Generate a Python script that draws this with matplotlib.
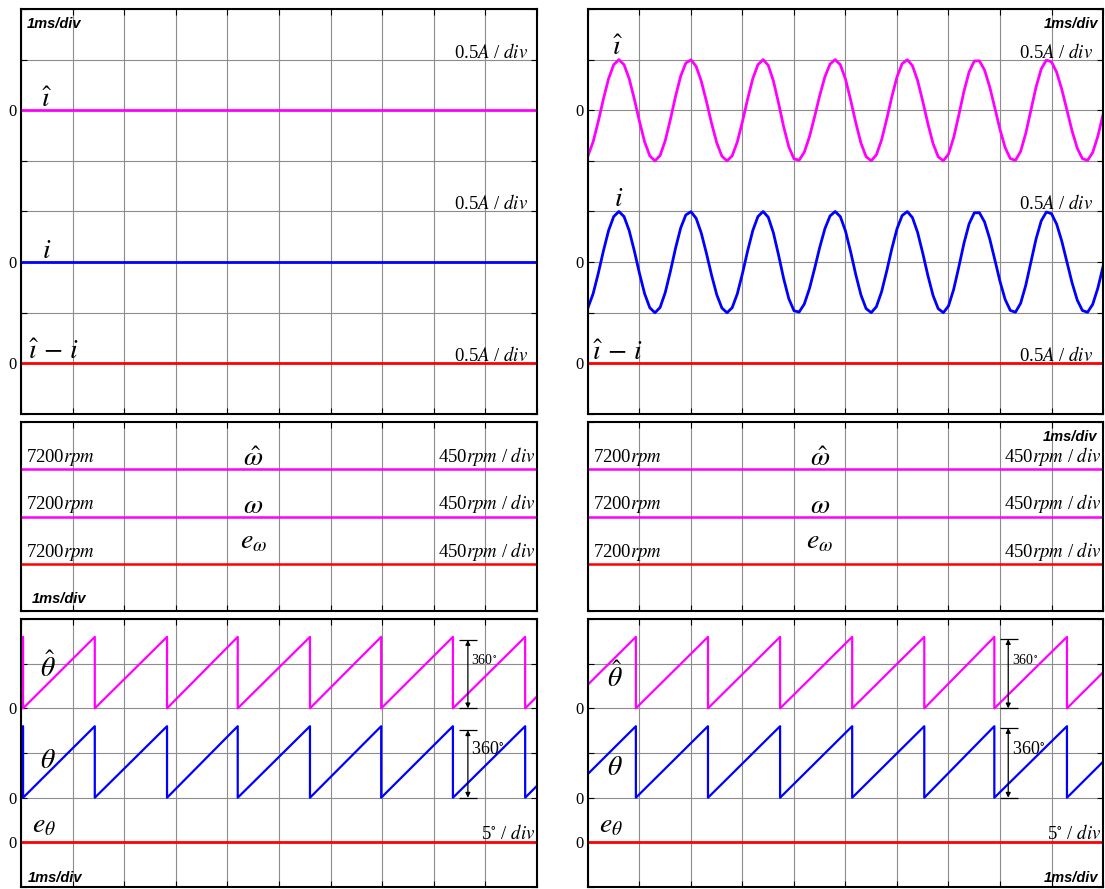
import numpy as np
import matplotlib
matplotlib.use("Agg")
import matplotlib.pyplot as plt

plt.rcParams['font.family'] = ['Liberation Serif', 'DejaVu Serif']
plt.rcParams['mathtext.fontset'] = 'stix'

MAG = '#ff00ff'
BLUE = '#0000ff'
RED = '#ff0000'
GRID = '#8c8c8c'

# time base, ms (1 ms/div, 10 div)
t_ms = np.arange(0, 10.001, 0.1)
flat_t = [0, 10]

# phase current while running (A), sampled every 0.1 ms (right column)
i_run = [-0.450, -0.312, -0.111, 0.111, 0.312, 0.450, 0.500, 0.450, 0.312, 0.111,
         -0.111, -0.312, -0.450, -0.500, -0.448, -0.301, -0.092, 0.137, 0.337, 0.466,
         0.498, 0.433, 0.287, 0.087, -0.129, -0.321, -0.453, -0.500, -0.450, -0.312,
         -0.111, 0.111, 0.312, 0.450, 0.500, 0.444, 0.290, 0.071, -0.164, -0.362,
         -0.480, -0.493, -0.414, -0.262, -0.064, 0.146, 0.330, 0.456, 0.500, 0.449,
         0.307, 0.102, -0.124, -0.324, -0.459, -0.499, -0.440, -0.294, -0.089, 0.133,
         0.329, 0.460, 0.499, 0.440, 0.294, 0.089, -0.133, -0.329, -0.460, -0.499,
         -0.433, -0.270, -0.048, 0.186, 0.378, 0.486, 0.488, 0.397, 0.231, 0.022,
         -0.191, -0.369, -0.477, -0.495, -0.407, -0.229, 0.000, 0.229, 0.407, 0.495,
         0.478, 0.375, 0.206, 0.000, -0.206, -0.375, -0.478, -0.495, -0.417, -0.256,
         -0.045]
i_est_run = i_run          # estimate sits on top of the measurement
i_stop = [0, 0]            # left column: zero current
i_err = [0, 0]

# speed (rpm)
w_est = [7200, 7200]
w_meas = [7200, 7200]
w_err = [0, 0]
w_ref = 7200

# rotor angle sawtooth: wrap instants (ms), value at start / end (deg)
wrap_left = [0.04, 1.43, 2.83, 4.20, 5.60, 6.98, 8.37, 9.77]
theta_left_ends = [355, 60]
wrap_right = [0.93, 2.33, 3.73, 5.13, 6.53, 7.89, 9.30]
theta_right_ends = [120, 181]
theta_err = [0, 0]

amp_per_div = 0.5
rpm_per_div = 450
deg_per_div = 225.0
err_deg_per_div = 5


def saw(wraps, ends):
    xs, ys = [0.0], [ends[0]]
    for w in wraps:
        xs += [w, w]
        ys += [360, 0]
    xs.append(10.0)
    ys.append(ends[1])
    return np.array(xs), np.array(ys)


def setup(ax, ndiv, zeros, hgrid=True):
    ax.set_xlim(0, 10)
    ax.set_ylim(0, ndiv)
    ax.set_xticks(np.arange(0, 11))
    ax.set_yticks(np.arange(0, ndiv + 1))
    ax.set_yticklabels(['0' if k in zeros else '' for k in range(ndiv + 1)], fontsize=12)
    ax.grid(True, axis='x', color=GRID, lw=0.8)
    if hgrid:
        ax.grid(True, axis='y', color=GRID, lw=0.8)
    ax.tick_params(direction='in', top=True, right=True, length=4, width=0.8,
                   labelbottom=False, pad=3)
    for s in ax.spines.values():
        s.set_linewidth(1.5)


def msdiv(ax, x, y, ha, va):
    ax.text(x, y, '1ms/div', family='Liberation Sans', weight='bold', style='italic',
            fontsize=10.5, ha=ha, va=va)


fig = plt.figure(figsize=(11.05, 8.89), dpi=100)
cols = [(0.0190, 0.4670), (0.5321, 0.4661)]
rows = [(0.5343, 0.4556), (0.3127, 0.2126), (0.0022, 0.3015)]
LBL = 20

# ---------- current panels ----------
for c, (left, w) in enumerate(cols):
    ax = fig.add_axes([left, rows[0][0], w, rows[0][1]])
    setup(ax, 8, [6, 3, 1])
    if c == 0:
        ax.plot(flat_t, 6 + np.array(i_stop) / amp_per_div, color=MAG, lw=2.0)
        ax.plot(flat_t, 3 + np.array(i_stop) / amp_per_div, color=BLUE, lw=2.0)
    else:
        ax.plot(t_ms, 6 + np.array(i_est_run) / amp_per_div, color=MAG, lw=2.0)
        ax.plot(t_ms, 3 + np.array(i_run) / amp_per_div, color=BLUE, lw=2.0)
    ax.plot(flat_t, 1 + np.array(i_err) / amp_per_div, color=RED, lw=2.0)
    xr = 9.83 if c == 0 else 9.80
    for yb in [7.04, 4.05, 1.04]:
        ax.text(xr, yb, '0.5$A$ / $div$', fontsize=13.5, ha='right', va='baseline')
    if c == 0:
        msdiv(ax, 0.12, 7.84, 'left', 'top')
        ax.text(0.5, 6.06, r'$\hat{\imath}$', fontsize=LBL, ha='center', va='baseline')
        ax.text(0.5, 3.08, r'$i$', fontsize=LBL, ha='center', va='baseline')
        ax.text(0.14, 1.08, r'$\hat{\imath}\,-\,i$', fontsize=LBL, ha='left', va='baseline')
    else:
        msdiv(ax, 9.9, 7.84, 'right', 'top')
        ax.text(0.58, 7.09, r'$\hat{\imath}$', fontsize=LBL, ha='center', va='baseline')
        ax.text(0.6, 4.1, r'$i$', fontsize=LBL, ha='center', va='baseline')
        ax.text(0.08, 1.06, r'$\hat{\imath}\,-\,i$', fontsize=LBL, ha='left', va='baseline')

# ---------- speed panels ----------
for c, (left, w) in enumerate(cols):
    ax = fig.add_axes([left, rows[1][0], w, rows[1][1]])
    setup(ax, 4, [], hgrid=False)
    ax.plot(flat_t, 3 + (np.array(w_est) - w_ref) / rpm_per_div, color=MAG, lw=1.8)
    ax.plot(flat_t, 2 + (np.array(w_meas) - w_ref) / rpm_per_div, color=MAG, lw=1.8)
    ax.plot(flat_t, 1 + np.array(w_err) / rpm_per_div, color=RED, lw=1.8)
    for yb in [3.15, 2.15, 1.15]:
        ax.text(0.1, yb, f'{w_ref}$rpm$', fontsize=13.5, ha='left', va='baseline')
        ax.text(9.97, yb, '450$rpm$ / $div$', fontsize=13.5, ha='right', va='baseline')
    ax.text(4.5, 3.06, r'$\hat{\omega}$', fontsize=LBL, ha='center', va='baseline')
    ax.text(4.5, 2.08, r'$\omega$', fontsize=LBL, ha='center', va='baseline')
    ax.text(4.5, 1.33, r'$e_{\omega}$', fontsize=LBL, ha='center', va='baseline')
    if c == 0:
        msdiv(ax, 0.2, 0.17, 'left', 'baseline')
    else:
        msdiv(ax, 9.88, 3.83, 'right', 'top')

# ---------- angle panels ----------
for c, (left, w) in enumerate(cols):
    ax = fig.add_axes([left, rows[2][0], w, rows[2][1]])
    setup(ax, 6, [4, 2, 1])
    if c == 0:
        sx, sy = saw(wrap_left, theta_left_ends)
    else:
        sx, sy = saw(wrap_right, theta_right_ends)
    ax.plot(sx, 4 + sy / deg_per_div, color=MAG, lw=1.6)
    ax.plot(sx, 2 + sy / deg_per_div, color=BLUE, lw=1.6)
    ax.plot(flat_t, 1 + np.array(theta_err) / err_deg_per_div, color=RED, lw=2.0)
    ax.text(9.97, 1.07, r'5$^{\circ}$ / $div$', fontsize=13.5, ha='right', va='baseline')
    if c == 0:
        xa, cap = 8.66, (8.49, 8.84)
        tops = (5.53, 3.51)
        ax.text(0.52, 4.70, r'$\hat{\theta}$', fontsize=LBL, ha='center', va='baseline')
        ax.text(0.52, 2.66, r'$\theta$', fontsize=LBL, ha='center', va='baseline')
        ax.text(0.45, 1.23, r'$e_{\theta}$', fontsize=LBL, ha='center', va='baseline')
        msdiv(ax, 0.14, 0.11, 'left', 'baseline')
    else:
        xa, cap = 8.16, (8.0, 8.35)
        tops = (5.55, 3.56)
        ax.text(0.52, 4.48, r'$\hat{\theta}$', fontsize=LBL, ha='center', va='baseline')
        ax.text(0.52, 2.51, r'$\theta$', fontsize=LBL, ha='center', va='baseline')
        ax.text(0.45, 1.23, r'$e_{\theta}$', fontsize=LBL, ha='center', va='baseline')
        msdiv(ax, 9.9, 0.11, 'right', 'baseline')
    for base, top, fs, yl in [(4, tops[0], 10, 5.0), (2, tops[1], 13, 2.97)]:
        ax.hlines([top, base], cap[0], cap[1], color='k', lw=0.9)
        ax.annotate('', xy=(xa, base), xytext=(xa, top),
                    arrowprops=dict(arrowstyle='<|-|>', lw=0.9, color='k',
                                    shrinkA=0, shrinkB=0, mutation_scale=7))
        ax.text(xa + 0.07, yl, r'360$^{\circ}$', fontsize=fs, ha='left', va='baseline')

fig.savefig('out.png', dpi=100)
